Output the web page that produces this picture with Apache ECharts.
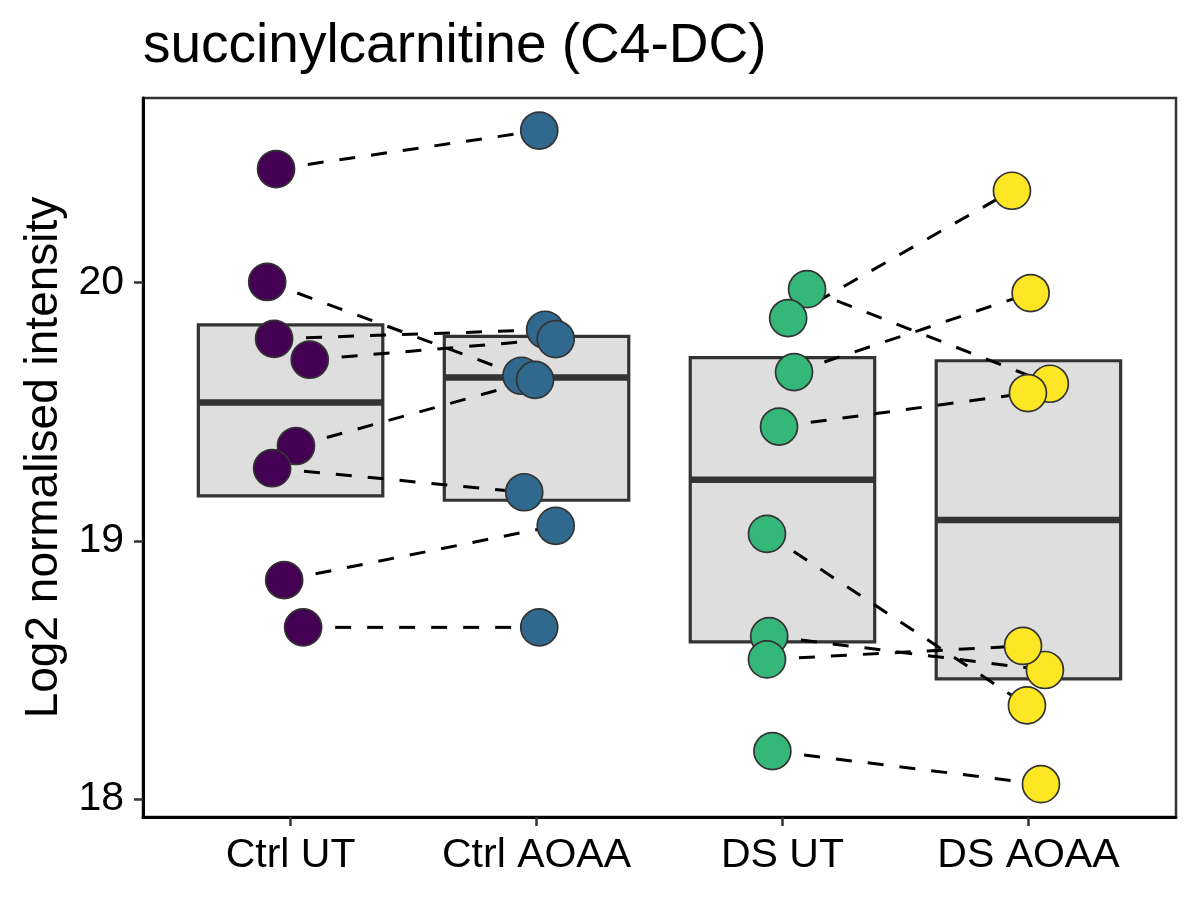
<!DOCTYPE html>
<html>
<head>
<meta charset="utf-8">
<script src="https://cdn.jsdelivr.net/npm/echarts@6/dist/echarts.min.js"></script>
<style>
html,body{margin:0;padding:0;background:#fff}
#chart{width:1200px;height:900px}
</style>
</head>
<body>
<div id="chart"></div>
<script>
// categories and tick labels
const categories = ['Ctrl UT', 'Ctrl AOAA', 'DS UT', 'DS AOAA']
const yTicks = [18, 19, 20]

// point values, paired by index (UT[i] -> AOAA[i])
const ctrlUT   = [20.439, 20.002, 19.782, 19.701, 19.367, 19.281, 18.848, 18.665]
const ctrlAOAA = [20.588, 19.639, 19.817, 19.781, 19.623, 19.188, 19.058, 18.665]
const dsUT     = [19.974, 19.862, 19.653, 19.442, 19.027, 18.631, 18.541, 18.186]
const dsAOAA   = [19.608, 20.355, 19.959, 19.572, 18.363, 18.500, 18.593, 18.058]

// horizontal jitter (category units)
const ctrlUTJitter   = [-0.059, -0.095, -0.067, 0.078, 0.022, -0.075, -0.026, 0.051]
const ctrlAOAAJitter = [0.011, -0.061, 0.035, 0.078, -0.006, -0.050, 0.078, 0.011]
const dsUTJitter     = [0.100, 0.023, 0.047, -0.014, -0.063, -0.054, -0.063, -0.041]
const dsAOAAJitter   = [0.087, -0.067, 0.009, -0.002, -0.006, 0.067, -0.022, 0.051]

// box: lower hinge, median, upper hinge
const boxLow    = [19.174, 19.157, 18.609, 18.466]
const boxMedian = [19.535, 19.632, 19.236, 19.081]
const boxHigh   = [19.836, 19.791, 19.709, 19.697]

const colors = ['#440154', '#31688E', '#35B779', '#FDE725']
const font = "'Liberation Sans', Arial, sans-serif"

const groups = [
    [ctrlUT, ctrlUTJitter],
    [ctrlAOAA, ctrlAOAAJitter],
    [dsUT, dsUTJitter],
    [dsAOAA, dsAOAAJitter]
]
const pts = groups.map(([vals, jit], g) => vals.map((v, i) => [g + 1 + jit[i], v]))

// dashed pair lines
const pairSeries = []
;[[0, 1], [2, 3]].forEach(([a, b]) => {
    pts[a].forEach((p, i) => {
        pairSeries.push({
            type: 'line',
            data: [p, pts[b][i]],
            symbol: 'none',
            silent: true,
            z: 2,
            lineStyle: { color: '#000', width: 3, type: [16, 16] }
        })
    })
})

const boxSeries = {
    type: 'custom',
    z: 1,
    silent: true,
    data: categories.map((c, i) => [i + 1, boxLow[i], boxMedian[i], boxHigh[i]]),
    encode: { x: 0, y: [1, 2, 3] },
    renderItem: (params, api) => {
        const x = api.value(0)
        const lo = api.coord([x, api.value(1)])
        const mid = api.coord([x, api.value(2)])
        const hi = api.coord([x, api.value(3)])
        const w = api.size([0.75, 0])[0]
        return {
            type: 'group',
            children: [
                { type: 'rect', shape: { x: lo[0] - w / 2, y: hi[1], width: w, height: lo[1] - hi[1] },
                  style: { fill: '#DEDEDE', stroke: '#333', lineWidth: 3.2 } },
                { type: 'line', shape: { x1: lo[0] - w / 2, y1: mid[1], x2: lo[0] + w / 2, y2: mid[1] },
                  style: { stroke: '#333', lineWidth: 6.5 } }
            ]
        }
    }
}

const pointSeries = pts.map((data, g) => ({
    type: 'scatter',
    data,
    z: 3,
    symbolSize: 37,
    itemStyle: { color: colors[g], borderColor: '#333', borderWidth: 1.7, opacity: 1 }
}))

const chart = echarts.init(document.getElementById('chart'))
chart.setOption({
    animation: false,
    backgroundColor: '#fff',
    title: {
        text: 'succinylcarnitine (C4-DC)',
        left: 143,
        top: 19,
        padding: 0,
        textStyle: { fontFamily: font, fontSize: 55, fontWeight: 'normal', color: '#000' }
    },
    grid: { left: 143, right: 24, top: 98, bottom: 83, show: true, borderColor: '#333', borderWidth: 2.5 },
    xAxis: {
        type: 'value',
        min: 0.4,
        max: 4.6,
        splitLine: { show: false },
        axisLine: { lineStyle: { color: '#000', width: 3 } },
        axisTick: { customValues: [1, 2, 3, 4], length: 9, lineStyle: { color: '#333', width: 2.5 } },
        axisLabel: {
            customValues: [1, 2, 3, 4],
            formatter: v => categories[Math.round(v) - 1],
            fontFamily: font, fontSize: 41, color: '#000', margin: 18
        }
    },
    yAxis: {
        type: 'value',
        min: 17.931,
        max: 20.714,
        name: 'Log2 normalised intensity',
        nameLocation: 'middle',
        nameGap: 76,
        nameTextStyle: { fontFamily: font, fontSize: 46, color: '#000' },
        splitLine: { show: false },
        axisLine: { lineStyle: { color: '#000', width: 3 } },
        axisTick: { customValues: yTicks, length: 9, lineStyle: { color: '#333', width: 2.5 } },
        axisLabel: { customValues: yTicks, fontFamily: font, fontSize: 41, color: '#000', margin: 19 }
    },
    series: [boxSeries, ...pairSeries, ...pointSeries]
})
</script>
</body>
</html>
